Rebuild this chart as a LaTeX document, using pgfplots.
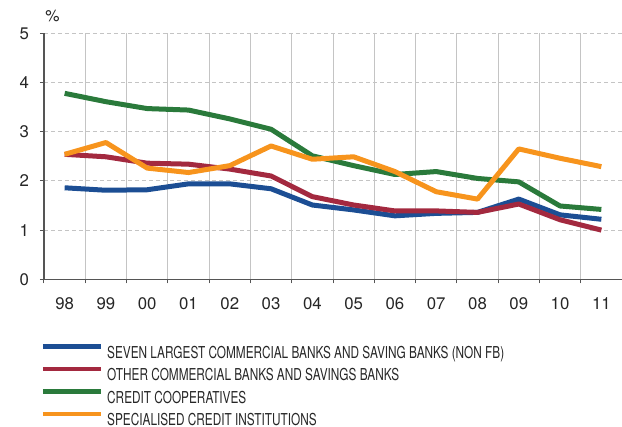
\documentclass[border=0pt]{standalone}
\usepackage{fontspec}
\setmainfont{TeX Gyre Heros}
\newfontfamily\narrowfont[FakeStretch=0.72]{TeX Gyre Heros}
\usepackage{pgfplots}
\pgfplotsset{compat=1.18}

\definecolor{cblue}{HTML}{1C4E94}
\definecolor{cred}{HTML}{A3293F}
\definecolor{cgreen}{HTML}{2A7A3B}
\definecolor{corange}{HTML}{F7941D}
\definecolor{gridgray}{HTML}{C4C4C4}
\definecolor{axgray}{HTML}{555555}

\begin{document}
\begin{tikzpicture}
\useasboundingbox (-22pt,-73.85pt) rectangle (289pt,139.65pt);
\begin{axis}[
    scale only axis,
    width=289pt, height=123pt,
    xmin=-0.5, xmax=13.5,
    ymin=0, ymax=5,
    axis x line=bottom, axis y line=left,
    axis line style={-, draw=axgray, line width=0.6pt},
    xtick={0,...,13},
    xticklabels={98,99,00,01,02,03,04,05,06,07,08,09,10,11},
    major x tick style={draw=none},
    minor xtick={-0.5,0.5,...,13.5},
    xminorgrids=true,
    ytick={0,...,5},
    ymajorgrids=true,
    tick align=outside,
    major tick length=2pt, minor tick length=2pt,
    tick style={draw=axgray, line width=0.5pt},
    minor grid style={draw=gridgray, line width=0.5pt},
    major grid style={draw=gridgray, line width=0.5pt, dash pattern=on 2pt off 1.5pt},
    /pgf/number format/assume math mode=true,
    ticklabel style={font=\fontsize{8.4}{9}\selectfont, text=black!85},
    xticklabel style={yshift=-3.5pt},
    yticklabel style={xshift=-2pt},
    legend style={at={(rel axis cs:0,0)}, anchor=north west,
        xshift=-5pt, yshift=-30.2pt, draw=none, fill=none,
        font=\narrowfont\fontsize{8.2}{9}\selectfont, text=black!85,
        nodes={inner ysep=0pt, inner xsep=2pt, text height=5.9pt, text depth=0pt},
        row sep=4.2pt},
    legend cell align=left,
    legend image code/.code={\draw[#1,line width=2.4pt] (0pt,2.9pt) -- (29pt,2.9pt);},
    every axis plot/.append style={line width=2.5pt, line join=round},
    clip=false,
]
\addplot[cblue] coordinates {(0,1.86) (1,1.81) (2,1.82) (3,1.94) (4,1.94) (5,1.84) (6,1.51) (7,1.41) (8,1.29) (9,1.34) (10,1.36) (11,1.63) (12,1.31) (13,1.22)};
\addlegendentry{SEVEN LARGEST COMMERCIAL BANKS AND SAVING BANKS (NON FB)}
\addplot[cred] coordinates {(0,2.54) (1,2.49) (2,2.36) (3,2.34) (4,2.24) (5,2.10) (6,1.68) (7,1.51) (8,1.39) (9,1.39) (10,1.36) (11,1.53) (12,1.21) (13,1.00)};
\addlegendentry{OTHER COMMERCIAL BANKS AND SAVINGS BANKS}
\addplot[cgreen] coordinates {(0,3.78) (1,3.61) (2,3.47) (3,3.44) (4,3.26) (5,3.05) (6,2.51) (7,2.31) (8,2.13) (9,2.19) (10,2.05) (11,1.98) (12,1.49) (13,1.42)};
\addlegendentry{CREDIT COOPERATIVES}
\addplot[corange] coordinates {(0,2.54) (1,2.78) (2,2.26) (3,2.17) (4,2.31) (5,2.71) (6,2.44) (7,2.49) (8,2.19) (9,1.78) (10,1.63) (11,2.65) (12,2.46) (13,2.29)};
\addlegendentry{SPECIALISED CREDIT INSTITUTIONS}
\node[anchor=south west, inner sep=0pt, font=\fontsize{8}{9}\selectfont, text=black!85] at (rel axis cs:0,1) [xshift=0.5pt, yshift=5.5pt] {\%};
\end{axis}
\end{tikzpicture}
\end{document}
